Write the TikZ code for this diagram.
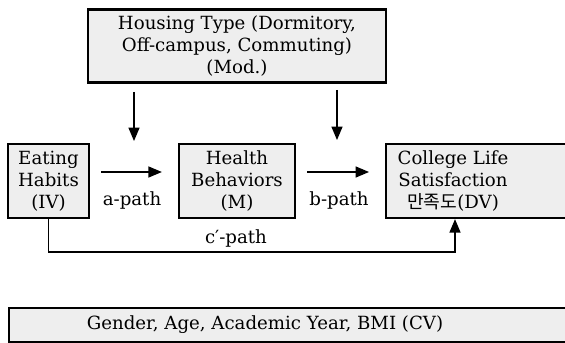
\documentclass[tikz,border=0pt]{standalone}
\usepackage{fontspec}
\setmainfont{DejaVu Serif}
\newfontfamily\krfont{Noto Sans CJK KR}
\usepackage{tikz}
\usetikzlibrary{arrows.meta, positioning, calc}
\definecolor{boxgrey}{HTML}{EEEEEE}

\begin{document}
\begin{tikzpicture}[x=0.03cm, y=-0.03cm,
  box/.style={draw=black, line width=2pt, fill=boxgrey, inner sep=0pt,
    align=center, font=\fontsize{15.5}{19}\selectfont},
  lbl/.style={align=center, font=\fontsize{15.5}{19}\selectfont},
  arrow/.style={-{Triangle[length=4mm, width=3.3mm]}, line width=1pt}]

  \clip (0,0) rectangle (565,343);

  \node[box, minimum width=8.94cm, minimum height=2.19cm] (housing) at (237,46) {Housing Type (Dormitory,\\Off-campus, Commuting)\\(Mod.)};
  \node[box, minimum width=2.43cm, minimum height=2.22cm] (eating) at (48.5,181) {Eating\\Habits\\(IV)};
  \node[box, minimum width=3.48cm, minimum height=2.22cm] (health) at (237,181) {Health\\Behaviors\\(M)};
  \node[box, minimum width=6.45cm, minimum height=2.22cm, anchor=west] (college) at (385,181) {};
  \node[lbl] (collegetxt) at (453,181) {College Life\\Satisfaction\\{\krfont 만족도}(DV)};
  \node[box, minimum width=17.76cm, minimum height=1.02cm, anchor=west] (cv) at (8,325) {};
  \node[lbl] (cvtxt) at (265,325) {Gender, Age, Academic Year, BMI (CV)};

  % moderator arrows
  \coordinate (modA) at (134,92);
  \coordinate (modAend) at (134,141);
  \coordinate (modB) at (337,90);
  \coordinate (modBend) at (337,140);
  \draw[arrow] (modA) -- (modAend);
  \draw[arrow] (modB) -- (modBend);

  % paths
  \draw[arrow] ($(eating.east)+(11,-9)$) -- ($(health.west)+(-16,-9)$);
  \draw[arrow] ($(health.east)+(11,-9)$) -- ($(college.west)+(-16,-9)$);
  \node[lbl] (apath) at (132,200) {a-path};
  \node[lbl] (bpath) at (339,200) {b-path};

  \coordinate (cjoin) at (455,252);
  \draw[arrow] (eating.south) |- (cjoin) -- (cjoin |- college.south);
  \node[lbl] (cpath) at (236,238) {c′-path};
\end{tikzpicture}
\end{document}
